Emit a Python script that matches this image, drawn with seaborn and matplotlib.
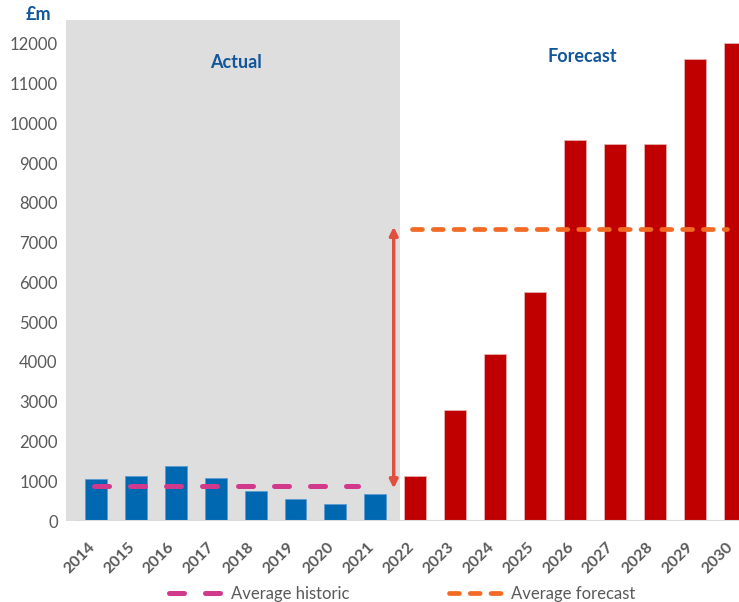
import matplotlib
matplotlib.use("Agg")
import matplotlib.pyplot as plt
import matplotlib.transforms as mtransforms
from matplotlib.lines import Line2D
import seaborn as sns
import pandas as pd

years = [str(y) for y in range(2014, 2031)]
actual_values = [1060, 1120, 1390, 1090, 760, 560, 440, 670]
forecast_values = [1120, 2800, 4190, 5770, 9580, 9480, 9480, 11620, 12020]
avg_historic = 880
avg_forecast = 7350
y_ticks = list(range(0, 12001, 1000))

sns.set_theme(style="white")
plt.rcParams['font.family'] = ['Lato', 'DejaVu Sans']

df = pd.DataFrame({
    "year": years,
    "value": actual_values + forecast_values,
    "phase": ["Actual"] * len(actual_values) + ["Forecast"] * len(forecast_values),
})

fig = plt.figure(figsize=(7.39, 6.02), dpi=100)
ax = fig.add_axes([66 / 739, (602 - 521) / 602, 1 - 66 / 739, (521 - 20) / 602])

grey_fc = "#DEDEDE"
ax.axvspan(-0.75, 7.61, color=grey_fc, zorder=0, lw=0)

sns.barplot(data=df, x="year", y="value", hue="phase",
            palette={"Actual": "#0067B1", "Forecast": "#C00000"},
            dodge=False, width=0.55, legend=False, ax=ax, zorder=2,
            saturation=1, linewidth=0.6, edgecolor="#E8B0B0")
for p in ax.patches:
    if p.get_facecolor()[2] > 0.5:
        p.set_edgecolor("#5A9BD0")

ax.set_xlim(-0.75, 16.11)
ax.set_ylim(0, 12600)
ax.set_yticks(y_ticks)
ax.set_yticklabels([str(v) for v in y_ticks], color="#595959", fontsize=12)
ax.set_xticks(range(len(years)))
ax.set_xticklabels([])
ax.tick_params(axis="y", length=0, pad=6)
ax.tick_params(axis="x", length=0)
ax.set_xlabel("")
ax.set_ylabel("")
for s in ax.spines.values():
    s.set_visible(False)
ax.axhline(0, xmin=(-0.5 + 0.75) / 16.86, xmax=1, color="#D9D9D9", lw=1.5, zorder=3)

# year labels as rotated texts, nudged so the last one stays inside
offset = mtransforms.ScaledTranslation(-3.5 / 100, -24 / 100, fig.dpi_scale_trans)
for i, yr in enumerate(years):
    ax.text(i, 0, yr, rotation=45, ha="right", va="center",
            rotation_mode="anchor", color="#595959", fontsize=11.5,
            fontweight="bold", transform=ax.get_xaxis_transform() + offset,
            clip_on=False)

hist_color = "#D13A8C"
fc_color = "#F26A24"
ax.plot([-0.06, 6.56], [avg_historic, avg_historic], color=hist_color, lw=3.6,
        dashes=(3, 4.2), dash_capstyle="round", zorder=4)
ax.plot([7.91, 15.8], [avg_forecast, avg_forecast], color=fc_color, lw=3.4,
        dashes=(2.1, 2.3), dash_capstyle="round", zorder=4)

ax.annotate("", xy=(7.46, avg_forecast + 50), xytext=(7.46, avg_historic - 60),
            arrowprops=dict(arrowstyle="<|-|>", color="#E0503E", lw=2.5,
                            mutation_scale=12, shrinkA=0, shrinkB=0), zorder=5)

title_color = "#11559A"
ax.text(3.51, 11520, "Actual", color=title_color, fontsize=13, fontweight="bold",
        ha="center", va="center")
ax.text(12.19, 11670, "Forecast", color=title_color, fontsize=13, fontweight="bold",
        ha="center", va="center")
fig.text(38 / 739, 1 - 14 / 602, "£m", color=title_color, fontsize=13,
         fontweight="bold", ha="center", va="center")

handles = [
    Line2D([], [], color=hist_color, lw=3.6, dashes=(3, 4.2), dash_capstyle="round"),
    Line2D([], [], color=fc_color, lw=3.4, dashes=(2.1, 2.3), dash_capstyle="round"),
]
fig.legend(handles, ["Average historic", "Average forecast"], loc="center",
           bbox_to_anchor=(402 / 739, 8 / 602), ncol=2, frameon=False,
           fontsize=12, labelcolor="#595959", handlelength=3.2,
           columnspacing=6.0, handletextpad=0.5)

fig.savefig("out.png", dpi=100)
